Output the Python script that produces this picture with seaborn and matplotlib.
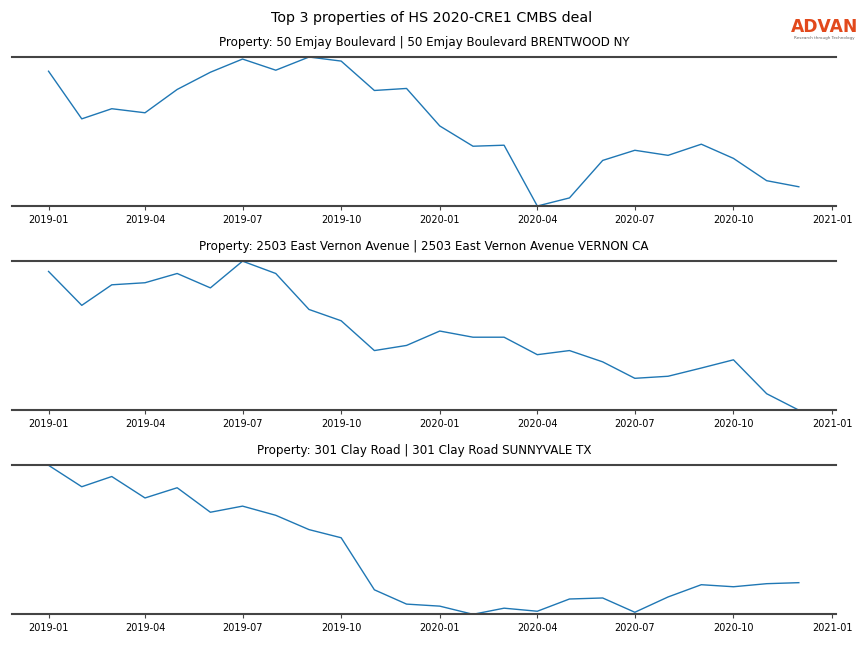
"""
Top 3 properties of HS 2020-CRE1 CMBS deal - monthly foot traffic trend.
"""

import pandas as pd
import matplotlib
matplotlib.use('Agg')
import matplotlib.pyplot as plt
import matplotlib.dates as mdates
import seaborn as sns

# Monthly index values (no y scale shown)
months = pd.date_range('2019-01-01', '2020-12-01', freq='MS')

emjay_values = [133, 86, 96, 92, 115, 132, 145, 134, 147, 143, 114, 116,
                79, 59, 60, 0, 8, 45, 55, 50, 61, 47, 25, 19]
vernon_values = [136, 103, 123, 125, 134, 120, 146, 134, 99, 88, 59, 64,
                 78, 72, 72, 55, 59, 48, 32, 34, 42, 50, 17, 1]
clay_values = [147, 126, 136, 115, 125, 101, 107, 98, 84, 76, 25, 11,
               9, 1, 7, 4, 16, 17, 3, 18, 30, 28, 31, 32]

titles = [
    'Property: 50 Emjay Boulevard | 50 Emjay Boulevard BRENTWOOD NY',
    'Property: 2503 East Vernon Avenue | 2503 East Vernon Avenue VERNON CA',
    'Property: 301 Clay Road | 301 Clay Road SUNNYVALE TX',
]
series = [emjay_values, vernon_values, clay_values]

fig, axes = plt.subplots(3, 1, figsize=(8.64, 6.48), dpi=100)
fig.subplots_adjust(left=0.014, right=0.968, top=0.912, bottom=0.052, hspace=0.37)

for ax, title, values in zip(axes, titles, series):
    df = pd.DataFrame({'month': months, 'value': values})
    sns.lineplot(data=df, x='month', y='value', ax=ax, color='#1f77b4', linewidth=1)
    ax.set_title(title, fontsize=8.6, pad=8)
    ax.set_xlabel('')
    ax.set_ylabel('')
    ax.set_yticks([])
    ax.margins(y=0)
    ax.set_xlim(pd.Timestamp('2018-11-28'), pd.Timestamp('2021-01-05'))
    ax.xaxis.set_major_locator(mdates.MonthLocator(bymonth=[1, 4, 7, 10]))
    ax.xaxis.set_major_formatter(mdates.DateFormatter('%Y-%m'))
    ax.tick_params(axis='x', labelsize=7, length=3, color='#444444')
    for side in ['left', 'right']:
        ax.spines[side].set_visible(False)
    for side in ['top', 'bottom']:
        ax.spines[side].set_color('#444444')
        ax.spines[side].set_linewidth(1.5)

fig.suptitle('Top 3 properties of HS 2020-CRE1 CMBS deal', fontsize=10.3, y=0.983)

# ADVAN logo as text
fig.text(0.954, 0.958, 'ADVAN', color='#e2491c', fontsize=12.3, fontweight='bold',
         ha='center', va='center')
fig.text(0.954, 0.941, 'Research through Technology', color='#666666', fontsize=3,
         ha='center', va='center')

plt.savefig('out.png', dpi=100)
plt.close()
